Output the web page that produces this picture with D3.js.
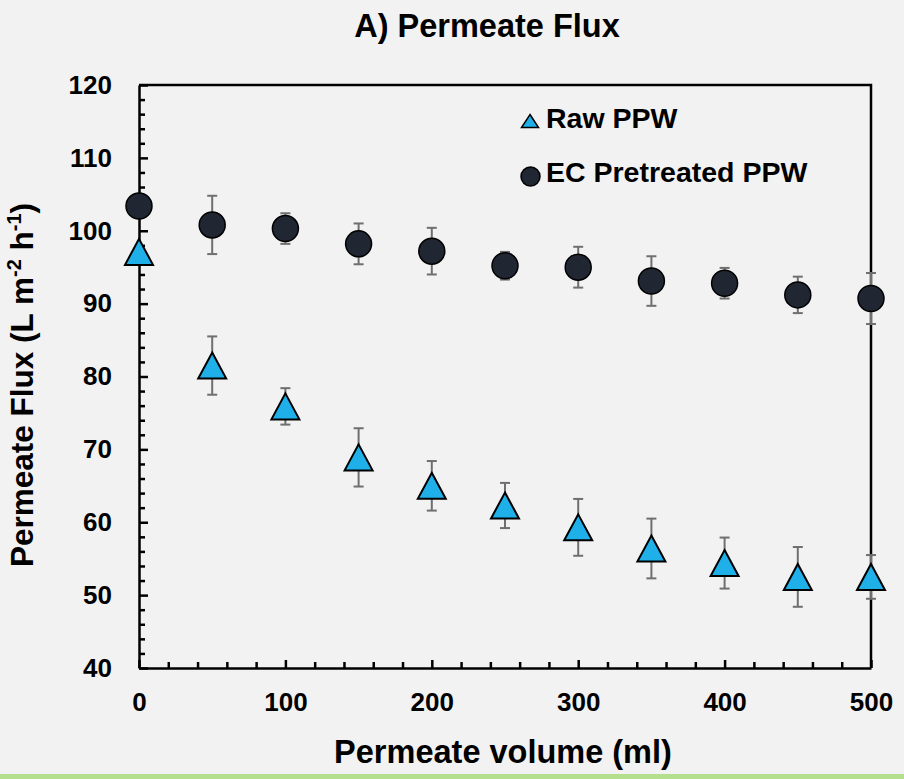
<!DOCTYPE html>
<html>
<head>
<meta charset="utf-8">
<script src="https://cdn.jsdelivr.net/npm/d3@7"></script>
<style>
  html, body { margin: 0; padding: 0; background: #f2f2f2; }
  svg { display: block; font-family: "Liberation Sans", Arial, sans-serif; font-weight: bold; }
</style>
</head>
<body>
<script>
'use strict';

// permeate volume (ml)
const volumes = [0, 50, 100, 150, 200, 250, 300, 350, 400, 450, 500];
// Raw PPW flux and its error
const rawFlux = [97.1, 81.5, 75.9, 68.9, 65.0, 62.3, 59.3, 56.4, 54.4, 52.5, 52.5];
const rawErr = [0.5, 4.0, 2.5, 4.0, 3.4, 3.1, 3.9, 4.1, 3.5, 4.1, 3.0];
// EC pretreated PPW flux and its error
const ecFlux = [103.4, 100.8, 100.3, 98.2, 97.2, 95.2, 95.0, 93.1, 92.8, 91.2, 90.7];
const ecErr = [0.5, 4.0, 2.1, 2.8, 3.2, 1.9, 2.8, 3.4, 2.1, 2.5, 3.5];

const yTicks = [40, 50, 60, 70, 80, 90, 100, 110, 120];
const xTicks = [0, 100, 200, 300, 400, 500];

const width = 904, height = 779;

let svg = d3.select('body').append('svg')
  .attr('width', width)
  .attr('height', height);

svg.append('rect')
  .attr('width', width).attr('height', height)
  .attr('fill', '#f2f2f2');

// green strip along the bottom
svg.append('rect')
  .attr('x', 0).attr('y', 774)
  .attr('width', width).attr('height', 5)
  .attr('fill', '#b4e08e');

let x = d3.scaleLinear().domain([0, 500]).range([139, 871]);
let y = d3.scaleLinear().domain([40, 120]).range([668, 85]);

// minor ticks
let yMinor = d3.range(40, 121, 2).filter(v => v % 10 !== 0);
svg.append('g')
  .attr('transform', 'translate(' + x(0) + ',0)')
  .call(d3.axisLeft(y).tickValues(yMinor).tickSizeInner(-6).tickSizeOuter(0).tickFormat(''))
  .call(g => g.select('.domain').remove())
  .call(g => g.selectAll('line').attr('stroke', '#000').attr('stroke-width', 2.5));

let xMinor = d3.range(0, 501, 20).filter(v => v % 100 !== 0);
svg.append('g')
  .attr('transform', 'translate(0,' + y(40) + ')')
  .call(d3.axisBottom(x).tickValues(xMinor).tickSizeInner(-6).tickSizeOuter(0).tickFormat(''))
  .call(g => g.select('.domain').remove())
  .call(g => g.selectAll('line').attr('stroke', '#000').attr('stroke-width', 2.5));

// major axes
let yAxis = svg.append('g')
  .attr('transform', 'translate(' + x(0) + ',0)')
  .call(d3.axisLeft(y).tickValues(yTicks).tickSizeInner(-9).tickSizeOuter(0).tickPadding(27));

let xAxis = svg.append('g')
  .attr('transform', 'translate(0,' + y(40) + ')')
  .call(d3.axisBottom(x).tickValues(xTicks).tickSizeInner(-8).tickSizeOuter(0).tickPadding(25));

[yAxis, xAxis].forEach(g => {
  g.select('.domain').attr('stroke', '#000').attr('stroke-width', 2.5);
  g.selectAll('line').attr('stroke', '#000').attr('stroke-width', 2.5);
  g.selectAll('text')
    .attr('fill', '#000')
    .style('font-size', '26px')
    .style('font-weight', 'bold')
    .style('font-family', '"Liberation Sans", Arial, sans-serif');
});

// frame top and right
svg.append('path')
  .attr('d', 'M' + x(0) + ',' + y(120) + 'H' + x(500) + 'V' + y(40))
  .attr('fill', 'none')
  .attr('stroke', '#000')
  .attr('stroke-width', 2.5);

// error bars
function drawErrors(vals, errs) {
  let g = svg.append('g').attr('stroke', '#6f6f6f').attr('stroke-width', 2);
  volumes.forEach((v, i) => {
    let cx = x(v), top = y(vals[i] + errs[i]), bot = y(vals[i] - errs[i]);
    g.append('line').attr('x1', cx).attr('x2', cx).attr('y1', top).attr('y2', bot);
    g.append('line').attr('x1', cx - 5).attr('x2', cx + 5).attr('y1', top).attr('y2', top);
    g.append('line').attr('x1', cx - 5).attr('x2', cx + 5).attr('y1', bot).attr('y2', bot);
  });
}
drawErrors(rawFlux, rawErr);
drawErrors(ecFlux, ecErr);

function triPath(cx, cy, w, h) {
  return 'M' + cx + ',' + (cy - h / 2) + 'L' + (cx + w / 2) + ',' + (cy + h / 2) +
    'L' + (cx - w / 2) + ',' + (cy + h / 2) + 'Z';
}

// EC pretreated markers
svg.append('g').selectAll('circle')
  .data(ecFlux)
  .enter()
  .append('circle')
    .attr('cx', (d, i) => x(volumes[i]))
    .attr('cy', d => y(d))
    .attr('r', 13)
    .attr('fill', '#202733')
    .attr('stroke', '#000')
    .attr('stroke-width', 1.5);

// Raw markers
svg.append('g').selectAll('path')
  .data(rawFlux)
  .enter()
  .append('path')
    .attr('d', (d, i) => triPath(x(volumes[i]), y(d), 28, 26))
    .attr('fill', '#1fb0ea')
    .attr('stroke', '#000')
    .attr('stroke-width', 2)
    .attr('stroke-linejoin', 'miter');

// legend
svg.append('path')
  .attr('d', triPath(530, 121, 17, 13))
  .attr('fill', '#1fb0ea')
  .attr('stroke', '#000')
  .attr('stroke-width', 1.5);
svg.append('text')
  .attr('x', 546).attr('y', 128)
  .style('font-size', '28.5px')
  .text('Raw PPW');

svg.append('circle')
  .attr('cx', 530.5).attr('cy', 176.5).attr('r', 9.5)
  .attr('fill', '#202733')
  .attr('stroke', '#000')
  .attr('stroke-width', 1.5);
svg.append('text')
  .attr('x', 546).attr('y', 182)
  .style('font-size', '28.5px')
  .text('EC Pretreated PPW');

// title and axis labels
svg.append('text')
  .attr('x', 487).attr('y', 37)
  .attr('text-anchor', 'middle')
  .style('font-size', '32.5px')
  .text('A) Permeate Flux');

svg.append('text')
  .attr('x', 503).attr('y', 763)
  .attr('text-anchor', 'middle')
  .style('font-size', '32.5px')
  .text('Permeate volume (ml)');

let yLabel = svg.append('text')
  .attr('transform', 'translate(33, 385)rotate(-90)')
  .attr('text-anchor', 'middle')
  .style('font-size', '31.5px');
yLabel.append('tspan').text('Permeate Flux (L m');
yLabel.append('tspan').attr('dy', -12).style('font-size', '20px').text('-2');
yLabel.append('tspan').attr('dy', 12).text(' h');
yLabel.append('tspan').attr('dy', -12).style('font-size', '20px').text('-1');
yLabel.append('tspan').attr('dy', 12).text(')');
</script>
</body>
</html>
